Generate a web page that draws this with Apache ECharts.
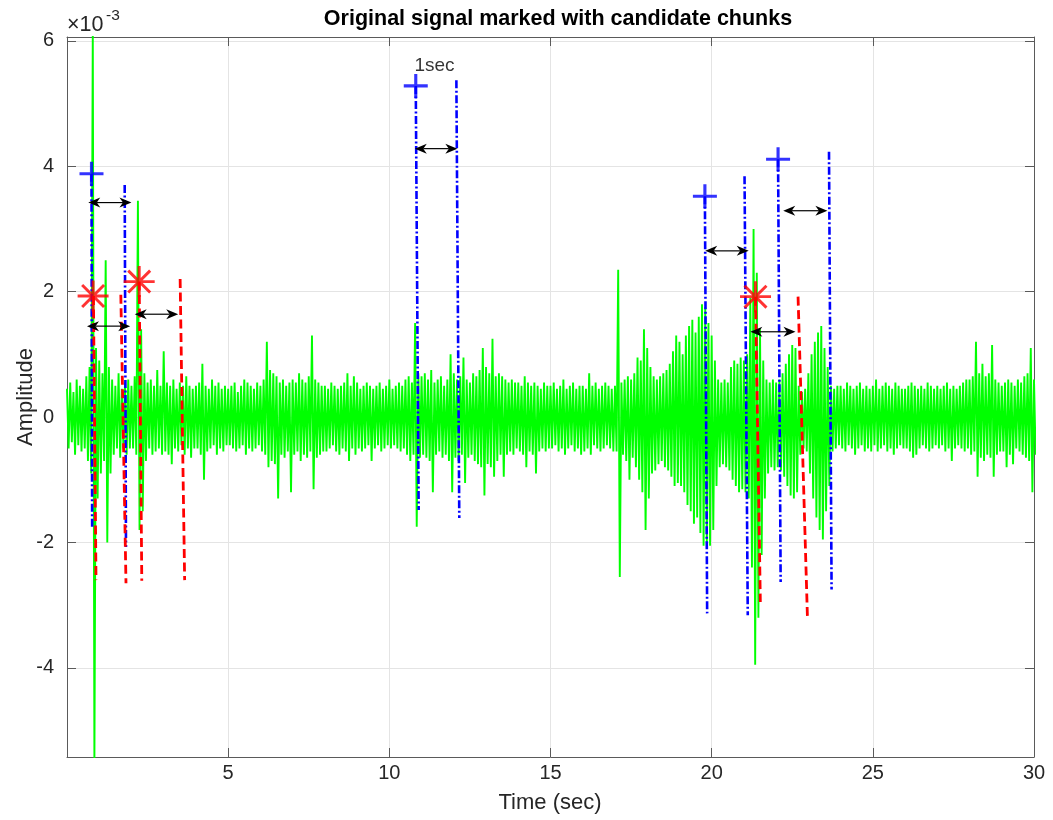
<!DOCTYPE html>
<html><head><meta charset="utf-8">
<script src="https://cdn.jsdelivr.net/npm/echarts@6/dist/echarts.min.js"></script>
<style>html,body{margin:0;padding:0;background:#fff}#c{width:1053px;height:820px}</style>
</head><body><div id="c"></div>
<script>
const FONT = '"Liberation Sans", Arial, Helvetica, sans-serif';

// tick labels
const xTickValues = [5, 10, 15, 20, 25, 30];
const yTickValues = [-4, -2, 0, 2, 4, 6];

// green signal envelope, one pair per 0.1 s (units of 1e-3)
const sigStep = 0.1;
const sigHi = [
 0.45,0.55,0.4,0.6,0.5,0.45,0.65,0.8,6.2,1.1,
 0.9,0.7,2.5,0.8,0.6,0.5,0.7,0.45,0.55,0.6,
 0.5,0.65,3.45,1.4,0.7,0.55,0.6,0.5,0.75,0.5,
 1.05,0.55,0.5,0.6,0.45,0.55,0.5,0.65,0.5,0.45,
 0.5,0.55,0.85,0.5,0.45,0.6,0.5,0.55,0.45,0.5,
 0.45,0.5,0.55,0.4,0.5,0.6,0.55,0.5,0.45,0.55,
 0.5,0.6,1.2,0.75,0.7,0.65,0.55,0.6,0.5,0.55,
 0.6,0.55,0.7,0.6,0.55,0.65,1.3,0.6,0.55,0.5,
 0.5,0.45,0.55,0.5,0.45,0.5,0.55,0.7,0.5,0.65,
 0.55,0.45,0.5,0.55,0.5,0.45,0.5,0.55,0.45,0.5,
 0.6,0.45,0.5,0.55,0.5,0.6,0.65,0.55,1.5,0.7,
 0.65,0.7,0.6,0.75,0.55,0.6,0.65,0.5,0.6,1.0,
 0.7,0.6,0.65,0.95,0.6,0.55,0.7,0.65,0.75,1.1,
 0.8,0.7,1.25,0.65,0.7,0.65,0.6,0.55,0.6,0.55,
 0.55,0.5,0.65,0.55,0.5,0.55,0.5,0.45,0.55,0.5,
 0.5,0.55,0.45,0.5,0.6,0.45,0.5,0.55,0.45,0.5,
 0.5,0.45,0.7,0.5,0.55,0.45,0.5,0.55,0.5,0.45,
 0.5,2.35,0.55,0.6,0.65,0.6,0.7,0.95,0.9,1.4,
 1.1,0.8,0.65,0.6,0.65,0.7,0.75,0.85,1.05,1.3,
 1.2,1.0,1.3,1.45,1.55,1.35,1.6,1.8,1.75,1.5,
 1.3,0.9,0.6,0.55,0.6,0.55,0.8,0.9,0.85,0.95,
 0.9,1.0,1.9,3.0,2.3,1.4,0.9,0.6,0.55,0.6,
 0.55,0.6,0.7,0.85,1.0,1.15,1.1,0.5,0.4,0.45,
 0.7,1.0,1.2,1.35,1.45,1.1,0.8,0.5,0.45,0.5,
 0.5,0.45,0.55,0.5,0.45,0.5,0.55,0.45,0.5,0.45,
 0.5,0.6,0.45,0.5,0.55,0.5,0.45,0.55,0.5,0.45,
 0.45,0.5,0.55,0.5,0.45,0.5,0.45,0.55,0.5,0.45,
 0.5,0.45,0.5,0.55,0.45,0.5,0.45,0.5,0.55,0.6,
 0.6,0.65,1.2,0.7,0.85,0.65,0.7,1.15,0.6,0.55,
 0.5,0.55,0.6,0.55,0.5,0.6,0.55,0.65,0.7,1.1,0.6
];
const sigLo = [
 -0.5,-0.4,-0.6,-0.45,-0.55,-0.5,-0.7,-0.9,-5.5,-1.3,
 -0.9,-0.7,-2.0,-0.9,-0.6,-0.5,-0.65,-0.5,-0.6,-0.5,
 -0.5,-0.6,-1.8,-1.5,-0.7,-0.5,-0.6,-0.55,-0.5,-0.6,
 -0.55,-0.6,-0.75,-0.5,-0.55,-0.45,-0.6,-0.5,-0.65,-0.5,
 -0.5,-0.6,-1.0,-0.55,-0.5,-0.45,-0.6,-0.5,-0.55,-0.45,
 -0.45,-0.5,-0.55,-0.5,-0.45,-0.6,-0.5,-0.55,-0.5,-0.45,
 -0.55,-0.6,-0.8,-0.7,-0.75,-1.3,-0.6,-0.65,-0.55,-1.2,
 -0.6,-0.55,-0.7,-0.6,-0.65,-0.55,-1.15,-0.65,-0.6,-0.55,
 -0.55,-0.5,-0.45,-0.55,-0.6,-0.5,-0.55,-0.7,-0.5,-0.6,
 -0.5,-0.55,-0.5,-0.45,-0.7,-0.5,-0.45,-0.55,-0.5,-0.45,
 -0.5,-0.45,-0.5,-0.55,-0.5,-0.6,-0.7,-0.6,-1.75,-0.65,
 -0.6,-0.65,-0.7,-1.2,-0.6,-0.55,-0.65,-0.6,-0.7,-1.2,
 -0.65,-0.7,-0.6,-1.05,-0.65,-0.6,-0.7,-0.75,-0.8,-1.25,
 -0.75,-0.8,-0.95,-0.7,-0.6,-0.95,-0.6,-0.55,-0.6,-0.5,
 -0.55,-0.6,-0.8,-0.55,-0.6,-0.9,-0.55,-0.5,-0.55,-0.5,
 -0.5,-0.45,-0.55,-0.5,-0.6,-0.5,-0.45,-0.55,-0.5,-0.6,
 -0.55,-0.5,-0.6,-0.45,-0.5,-0.55,-0.5,-0.45,-0.5,-0.55,
 -0.55,-2.55,-0.6,-0.7,-1.0,-0.65,-0.8,-1.0,-1.2,-1.8,
 -1.3,-0.9,-0.85,-0.75,-0.7,-0.8,-0.85,-0.95,-1.1,-1.05,
 -1.1,-1.2,-1.4,-1.5,-1.7,-1.6,-1.85,-2.05,-2.0,-2.05,
 -1.8,-1.1,-0.8,-0.75,-0.8,-0.85,-1.0,-1.1,-1.2,-1.15,
 -1.2,-1.3,-2.4,-3.95,-3.2,-2.2,-1.3,-0.9,-0.8,-0.85,
 -0.8,-0.85,-0.95,-1.1,-1.25,-1.3,-1.2,-0.6,-0.5,-0.55,
 -0.9,-1.3,-1.6,-1.8,-1.95,-1.5,-1.1,-0.55,-0.5,-0.45,
 -0.5,-0.55,-0.45,-0.5,-0.6,-0.5,-0.45,-0.55,-0.5,-0.55,
 -0.45,-0.55,-0.5,-0.45,-0.55,-0.5,-0.6,-0.5,-0.45,-0.5,
 -0.5,-0.55,-0.65,-0.6,-0.5,-0.45,-0.5,-0.55,-0.5,-0.45,
 -0.5,-0.45,-0.55,-0.5,-0.7,-0.5,-0.45,-0.5,-0.55,-0.5,
 -0.6,-0.55,-0.95,-0.65,-0.7,-0.6,-0.65,-0.95,-0.6,-0.55,
 -0.55,-0.8,-0.6,-0.75,-0.5,-0.55,-0.6,-0.65,-0.7,-1.2,-0.6
];

// candidate chunk start markers (blue +)
const plusT = [0.76, 10.82, 19.79, 22.06];
const plusV = [3.88, 5.28, 3.52, 4.11];

// blue dash-dot chunk boundary lines: top and bottom ends
const blueTopT = [0.76, 1.79, 10.82, 12.08, 19.79, 21.02, 22.06, 23.64];
const blueTopV = [3.88, 3.70, 5.28, 5.37, 3.52, 3.84, 4.11, 4.23];
const blueBotT = [0.78, 1.83, 10.91, 12.17, 19.86, 21.12, 22.14, 23.72];
const blueBotV = [-1.75, -2.07, -1.48, -1.61, -3.13, -3.16, -2.63, -2.75];

// event markers (red *)
const starT = [0.81, 2.24, 21.36];
const starV = [1.93, 2.16, 1.92];

// red dashed lines: top and bottom ends
const redTopT = [0.82, 1.67, 2.24, 3.51, 21.36, 22.68];
const redTopV = [1.93, 1.95, 2.16, 2.20, 1.92, 1.92];
const redBotT = [0.90, 1.83, 2.32, 3.65, 21.51, 22.97];
const redBotV = [-2.60, -2.65, -2.61, -2.60, -2.95, -3.17];

// double arrows: start time, end time, level
const arrowT1 = [0.66, 0.62, 2.10, 10.79, 19.80, 22.22, 21.20];
const arrowT2 = [2.00, 1.96, 3.45, 12.11, 21.15, 23.59, 22.60];
const arrowV  = [3.42, 1.45, 1.64, 4.28, 2.65, 3.29, 1.36];

// text annotation
const noteText = '1sec';
const noteT = 10.78, noteV = 5.6;

// ---- build ----
const sigData = [];
for (let i = 0; i < sigHi.length; i++) {
  sigData.push([i * sigStep, sigHi[i]]);
  sigData.push([i * sigStep + sigStep / 2, sigLo[i]]);
}

function plusPath(w) {
  return 'path://M' + (-w) + ',-1 L' + w + ',-1 L' + w + ',' + (-w) + ' L1,' + (-w) + ' L1,' + w +
    ' L' + w + ',' + w + ' L' + w + ',1 L' + (-w) + ',1 L' + (-w) + ',' + w + ' L-1,' + w +
    ' L-1,' + (-w) + ' L' + (-w) + ',' + (-w) + ' Z';
}
function starPath(w) {
  let p = 'path://';
  [0, 45, 90, 135].forEach(a => {
    const r = a * Math.PI / 180, c = Math.cos(r), s = Math.sin(r);
    const nx = -s * w, ny = c * w;
    const pts = [[c + nx, s + ny], [c - nx, s - ny], [-c - nx, -s - ny], [-c + nx, -s + ny]];
    p += 'M' + pts.map(q => q[0].toFixed(4) + ',' + q[1].toFixed(4)).join(' L') + ' Z ';
  });
  return p;
}

const series = [];
series.push({
  type: 'line', data: sigData, showSymbol: false, symbol: 'none', silent: true,
  lineStyle: { color: '#00ff00', width: 1.9, join: 'bevel' }, z: 1, clip: true
});
for (let i = 0; i < blueTopT.length; i++) {
  series.push({
    type: 'line', data: [[blueTopT[i], blueTopV[i]], [blueBotT[i], blueBotV[i]]],
    symbol: 'none', silent: true, z: 3,
    lineStyle: { color: '#0000ff', width: 2.6, type: [8, 2.5, 2, 2.5] }
  });
}
for (let i = 0; i < redTopT.length; i++) {
  series.push({
    type: 'line', data: [[redTopT[i], redTopV[i]], [redBotT[i], redBotV[i]]],
    symbol: 'none', silent: true, z: 3,
    lineStyle: { color: '#ff0000', width: 2.8, type: [9, 4.5] }
  });
}
series.push({
  type: 'custom', silent: true, z: 6,
  data: arrowT1.map((t, i) => [t, arrowT2[i], arrowV[i]]),
  encode: { x: [0, 1], y: 2 },
  renderItem: function (params, api) {
    const p1 = api.coord([api.value(0), api.value(2)]);
    const p2 = api.coord([api.value(1), api.value(2)]);
    const L = 12, W = 5, N = 8.5, y = p1[1];
    return { type: 'group', children: [
      { type: 'line', shape: { x1: p1[0] + N, y1: y, x2: p2[0] - N, y2: y }, style: { stroke: '#000', lineWidth: 1.2 } },
      { type: 'polygon', shape: { points: [[p1[0], y], [p1[0] + L, y - W], [p1[0] + N, y], [p1[0] + L, y + W]] }, style: { fill: '#000' } },
      { type: 'polygon', shape: { points: [[p2[0], y], [p2[0] - L, y - W], [p2[0] - N, y], [p2[0] - L, y + W]] }, style: { fill: '#000' } }
    ]};
  }
});
series.push({
  type: 'scatter', silent: true, z: 7,
  data: plusT.map((t, i) => [t, plusV[i]]),
  symbol: plusPath(0.13), symbolSize: 24,
  itemStyle: { color: '#0000ff' }
});
series.push({
  type: 'scatter', silent: true, z: 7,
  data: starT.map((t, i) => [t, starV[i]]),
  symbol: starPath(0.095), symbolSize: 31,
  itemStyle: { color: '#ff0000' }
});
series.push({
  type: 'scatter', silent: true, z: 8,
  data: [[noteT, noteV]], symbolSize: 0,
  label: { show: true, formatter: noteText, position: [0, 0], align: 'left', verticalAlign: 'middle',
           color: '#000', fontSize: 19, fontFamily: FONT }
});

const axisCol = '#5a5a5a';
const gridCol = '#e4e4e4';
const option = {
  animation: false,
  backgroundColor: '#fff',
  grid: { left: 67, right: 19, top: 37, bottom: 63, containLabel: false },
  xAxis: [{
    type: 'value', min: 0, max: 30, interval: 5, position: 'bottom',
    axisLine: { show: true, onZero: false, lineStyle: { color: axisCol, width: 1 } },
    axisTick: { show: true, inside: true, length: 9, lineStyle: { color: axisCol } },
    axisLabel: { margin: 6, fontSize: 20, fontFamily: FONT, color: '#262626',
      formatter: v => xTickValues.includes(v) ? String(v) : '' },
    splitLine: { show: true, lineStyle: { color: gridCol, width: 1 } }
  }, {
    type: 'value', min: 0, max: 30, interval: 5, position: 'top',
    axisLine: { show: true, onZero: false, lineStyle: { color: axisCol, width: 1 } },
    axisTick: { show: true, inside: true, length: 9, lineStyle: { color: axisCol } },
    axisLabel: { show: false }, splitLine: { show: false }
  }],
  yAxis: [{
    type: 'value', min: -5.42, max: 6.06, splitNumber: 6, position: 'left',
    axisLine: { show: true, onZero: false, lineStyle: { color: axisCol, width: 1 } },
    axisTick: { show: true, inside: true, length: 9, lineStyle: { color: axisCol } },
    axisLabel: { margin: 13, fontSize: 20, fontFamily: FONT, color: '#262626',
      formatter: v => { const r = Math.round(v * 1000) / 1000; return yTickValues.includes(r) ? String(r) : ''; } },
    splitLine: { show: true, lineStyle: { color: gridCol, width: 1 } }
  }, {
    type: 'value', min: -5.42, max: 6.06, splitNumber: 6, position: 'right',
    axisLine: { show: true, onZero: false, lineStyle: { color: axisCol, width: 1 } },
    axisTick: { show: true, inside: true, length: 9, lineStyle: { color: axisCol } },
    axisLabel: { show: false }, splitLine: { show: false }
  }],
  graphic: [
    { type: 'text', x: 558, y: 19, style: { text: 'Original signal marked with candidate chunks', align: 'center', verticalAlign: 'middle',
      font: 'bold 21.5px ' + FONT, fill: '#000' } },
    { type: 'text', x: 550, y: 803, style: { text: 'Time (sec)', align: 'center', verticalAlign: 'middle',
      font: '22px ' + FONT, fill: '#262626' } },
    { type: 'text', x: 26, y: 397, rotation: Math.PI / 2, style: { text: 'Amplitude', align: 'center', verticalAlign: 'middle',
      font: '22px ' + FONT, fill: '#262626' } },
    { type: 'text', x: 67, y: 25, style: { text: '×10', align: 'left', verticalAlign: 'middle',
      font: '21.5px ' + FONT, fill: '#262626' } },
    { type: 'text', x: 106, y: 16, style: { text: '-3', align: 'left', verticalAlign: 'middle',
      font: '15.5px ' + FONT, fill: '#262626' } }
  ],
  series: series
};
const chart = echarts.init(document.getElementById('c'), null, { renderer: 'canvas' });
chart.setOption(option);
</script>
</body></html>
